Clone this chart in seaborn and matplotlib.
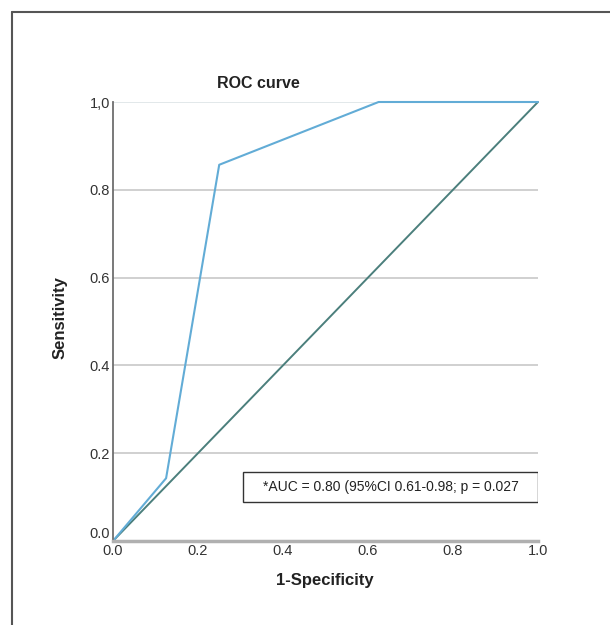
import matplotlib.pyplot as plt
import seaborn as sns
from matplotlib.lines import Line2D
from matplotlib.patches import Rectangle

# ROC data
fpr = [0.0, 0.125, 0.25, 0.625, 1.0]
tpr = [0.0, 0.143, 0.857, 1.0, 1.0]
ref_x = [0.0, 1.0]
ref_y = [0.0, 1.0]

y_ticks = [0.0, 0.2, 0.4, 0.6, 0.8, 1.0]
y_labels = ["0.0", "0.2", "0.4", "0.6", "0.8", "1,0"]
x_ticks = [0.0, 0.2, 0.4, 0.6, 0.8, 1.0]
x_labels = ["0.0", "0.2", "0.4", "0.6", "0.8", "1.0"]

auc_text = "*AUC = 0.80 (95%CI 0.61-0.98; p = 0.027"

sns.set_style("white")
plt.rcParams["font.family"] = ["Liberation Sans", "DejaVu Sans"]

fig = plt.figure(figsize=(6.1, 6.25), dpi=100)
ax = fig.add_axes([0.1852, 0.1344, 0.6967, 0.7024])

# outer frame
fig.add_artist(Line2D([12 / 610, 1.0], [1 - 12 / 625, 1 - 12 / 625],
                      transform=fig.transFigure, color="#555555", lw=1.5))
fig.add_artist(Line2D([12 / 610, 12 / 610], [0.0, 1 - 12 / 625],
                      transform=fig.transFigure, color="#555555", lw=1.5))

for t in y_ticks[1:]:
    ax.axhline(t, color="#c8c8c8" if t < 1 else "#dde4e6", lw=1.2, zorder=0)

sns.lineplot(x=ref_x, y=ref_y, ax=ax, color="#4b7f7c", lw=1.4,
             estimator=None, sort=False, clip_on=False)
sns.lineplot(x=fpr, y=tpr, ax=ax, color="#62acd6", lw=1.5,
             estimator=None, sort=False, clip_on=False)

ax.set_xlim(0, 1)
ax.set_ylim(0, 1)
ax.set_xticks(x_ticks)
ax.set_xticklabels(x_labels, fontsize=10.5, color="#333333")
ax.set_yticks(y_ticks)
ax.set_yticklabels(y_labels, fontsize=10.5, color="#333333")
ax.tick_params(length=0, pad=2)
# lift the bottom y label a little, as in the original
ax.get_yticklabels()[0].set_verticalalignment("bottom")

for s in ["top", "right"]:
    ax.spines[s].set_visible(False)
ax.spines["left"].set_color("#6e6e6e")
ax.spines["left"].set_linewidth(1.3)
ax.spines["bottom"].set_color("#b0b0b0")
ax.spines["bottom"].set_linewidth(2.5)

# AUC box
ax.add_patch(Rectangle((0.306, 0.089), 0.694, 0.068, fill=False,
                       edgecolor="#333333", lw=1.0))
ax.text(0.653, 0.123, auc_text, ha="center", va="center",
        fontsize=10, color="#222222")

fig.text(258 / 610, 1 - 83 / 625, "ROC curve", ha="center", va="center",
         fontsize=11.5, fontweight="bold", color="#222222")
fig.text(325 / 610, 1 - 580 / 625, "1-Specificity", ha="center", va="center",
         fontsize=12, fontweight="bold", color="#222222")
fig.text(60 / 610, 1 - 318 / 625, "Sensitivity", ha="center", va="center",
         rotation=90, fontsize=12, fontweight="bold", color="#222222")

plt.savefig("out.png", dpi=100)
plt.close()
